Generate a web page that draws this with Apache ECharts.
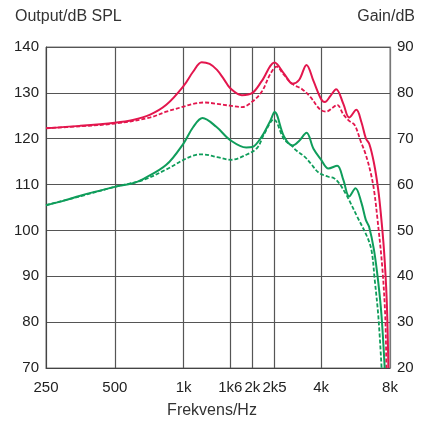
<!DOCTYPE html>
<html>
<head>
<meta charset="utf-8">
<script src="https://cdn.jsdelivr.net/npm/echarts@6/dist/echarts.min.js"></script>
<style>html,body{margin:0;padding:0;background:#fff}#c{width:427px;height:427px}</style>
</head>
<body>
<div id="c"></div>
<script>
// Frequency ticks (Hz) and their labels
const tickFreqs = [250, 500, 1000, 1600, 2000, 2500, 4000, 8000];
const tickLabels = ['250', '500', '1k', '1k6', '2k', '2k5', '4k', '8k'];

// Output (dB SPL), solid red
const outputFull = [[250,122.3],[350,122.8],[500,123.5],[600,124.1],[710,125.2],[840,127.4],[1000,131.5],[1100,134.6],[1200,136.7],[1300,136.3],[1400,135.0],[1500,133.0],[1600,131.0],[1800,129.5],[2000,130.0],[2200,132.6],[2500,136.6],[2750,134.2],[3000,132.0],[3200,132.8],[3450,136.1],[3700,132.6],[4000,128.6],[4150,128.0],[4400,129.4],[4650,130.8],[5000,127.6],[5300,124.6],[5700,126.3],[6000,123.6],[6270,120.1],[6500,118.8],[6800,114.8],[7100,109],[7300,103.5],[7530,95.7],[7740,84.8],[7870,70]];
// Output (dB SPL), dashed red
const outputAlt = [[250,122.3],[350,122.7],[500,123.3],[710,124.6],[840,125.9],[1000,127.0],[1100,127.6],[1235,127.9],[1400,127.6],[1600,127.2],[1800,126.9],[2000,128.1],[2200,130.3],[2400,134.2],[2550,135.7],[2750,133.9],[3000,131.9],[3300,130.8],[3600,129.0],[3850,127.0],[4000,126.2],[4200,125.9],[4500,126.8],[4700,127.4],[5000,125.3],[5300,123.9],[5600,123.0],[5960,119.4],[6270,116.5],[6590,112.5],[6810,108.8],[7050,102.5],[7400,92],[7630,81],[7710,70]];
// Gain (dB), solid green
const gainFull = [[250,105.5],[300,106.5],[350,107.5],[400,108.3],[500,109.5],[600,110.3],[665,111.2],[840,114.3],[1000,119.0],[1100,122.5],[1210,124.5],[1390,122.6],[1600,119.7],[1880,118.1],[2000,118.2],[2200,120.5],[2400,124.0],[2500,125.8],[2750,120.5],[3000,118.5],[3200,119.5],[3450,121.3],[3700,117.8],[4000,115.4],[4300,113.5],[4700,114.1],[5000,111],[5300,107.4],[5650,109.2],[6000,106],[6270,102.3],[6480,100.8],[6810,95.7],[7115,88.5],[7350,81.2],[7585,70]];
// Gain (dB), dashed green
const gainAlt = [[250,105.5],[350,107.4],[500,109.5],[665,111.0],[840,113.3],[1000,115.4],[1100,116.3],[1200,116.6],[1400,116.0],[1610,115.4],[1880,116.5],[2100,118],[2250,121],[2480,124.2],[2750,119.9],[3000,118.3],[3100,117.5],[3400,116.0],[3600,114.6],[3900,112.6],[4300,111.7],[4550,111.4],[4790,110.3],[5150,107.8],[5300,106.6],[5750,103],[6370,98.5],[6650,95.5],[6850,89.5],[7115,81.2],[7350,70]];

const RED = '#e3164d';
const GREEN = '#0f9d5b';
const labelFont = '"Liberation Sans Narrow", "Arial Narrow", "Liberation Sans", Arial, sans-serif';
const titleFont = '"Liberation Sans", Arial, sans-serif';

const chart = echarts.init(document.getElementById('c'), null, {renderer: 'canvas'});
function labelFor(v) {
  let best = 0, bd = Infinity;
  tickFreqs.forEach((f, i) => { const d = Math.abs(Math.log(v / f)); if (d < bd) { bd = d; best = i; } });
  return tickLabels[best];
}
function mk(name, data, color, dashed) {
  return {
    name, type: 'line', data, yAxisIndex: 0, smooth: 0.35, symbol: 'none',
    lineStyle: {color, width: dashed ? 1.8 : 2, type: dashed ? [4, 2] : 'solid'},
    clip: true, z: dashed ? 3 : 4
  };
}
chart.setOption({
  animation: false,
  backgroundColor: '#fff',
  grid: {left: 46, right: 37, top: 47, bottom: 59, show: true, borderColor: '#777', borderWidth: 1},
  xAxis: {
    type: 'log', logBase: 2, min: 250, max: 8000,
    axisLine: {show: true, lineStyle: {color: '#444', width: 1}},
    axisTick: {show: false, customValues: tickFreqs},
    axisLabel: {customValues: tickFreqs, formatter: labelFor, color: '#222', fontFamily: labelFont, fontSize: 15, margin: 12},
    splitLine: {show: true, lineStyle: {color: '#555', width: 1.2}},
    minorSplitLine: {show: false}
  },
  yAxis: [{
    type: 'value', min: 70, max: 140, interval: 10, position: 'left',
    axisLine: {show: true, lineStyle: {color: '#444', width: 1}},
    axisTick: {show: false},
    axisLabel: {color: '#222', fontFamily: labelFont, fontSize: 15, margin: 7},
    splitLine: {show: true, lineStyle: {color: '#555', width: 1.2}}
  }, {
    type: 'value', min: 20, max: 90, interval: 10, position: 'right',
    axisLine: {show: true, lineStyle: {color: '#777', width: 1}},
    axisTick: {show: false},
    axisLabel: {color: '#222', fontFamily: labelFont, fontSize: 15, margin: 7},
    splitLine: {show: false}
  }],
  graphic: [
    {type: 'text', left: 15, top: 9, style: {text: 'Output/dB SPL', fontFamily: titleFont, fontSize: 16, fill: '#333'}},
    {type: 'text', right: 12, top: 9, style: {text: 'Gain/dB', fontFamily: titleFont, fontSize: 16, fill: '#333'}},
    {type: 'text', x: 212, y: 411, style: {text: 'Frekvens/Hz', fontFamily: titleFont, fontSize: 16, fill: '#333', align: 'center', verticalAlign: 'middle'}}
  ],
  series: [
    mk('Output alt', outputAlt, RED, true),
    mk('Gain alt', gainAlt, GREEN, true),
    mk('Output', outputFull, RED, false),
    mk('Gain', gainFull, GREEN, false)
  ]
});
</script>
</body>
</html>
